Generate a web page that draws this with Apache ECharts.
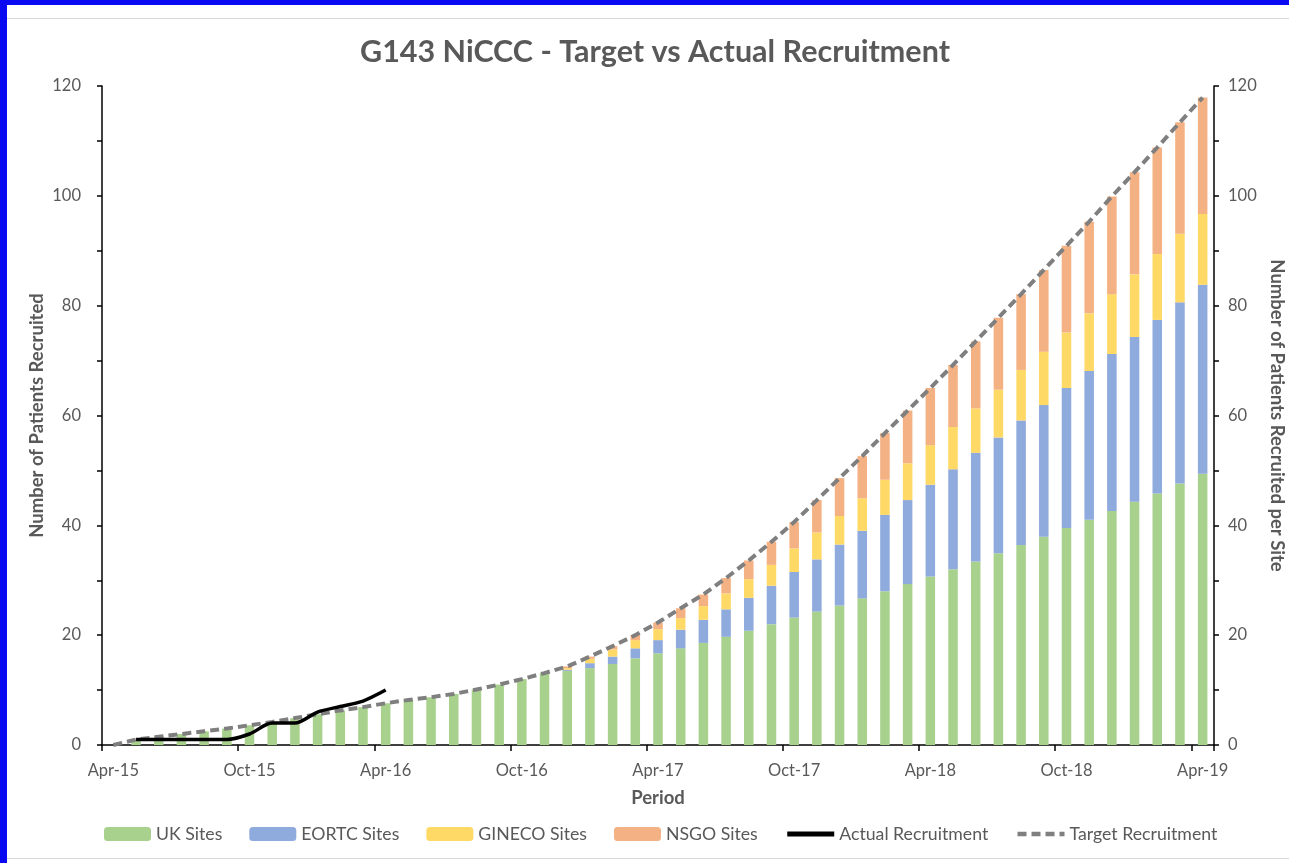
<!DOCTYPE html>
<html>
<head>
<meta charset="utf-8">
<script src="https://cdn.jsdelivr.net/npm/echarts@6/dist/echarts.min.js"></script>
<style>
html,body{margin:0;padding:0;width:1289px;height:863px;overflow:hidden;background:#0a0af2;}
#frame{position:absolute;left:7px;top:5px;width:1282px;height:858px;background:#ffffff;}
#line1{position:absolute;left:7px;top:18px;width:1282px;height:1px;background:#d9d9d9;}
#line2{position:absolute;left:7px;top:858px;width:1282px;height:1px;background:#d9d9d9;}
#chart{position:absolute;left:0;top:0;width:1289px;height:863px;}
</style>
</head>
<body>
<div id="frame"></div>
<div id="line1"></div>
<div id="line2"></div>
<div id="chart"></div>
<script>
const categories = ['Apr-15','May-15','Jun-15','Jul-15','Aug-15','Sep-15','Oct-15','Nov-15','Dec-15','Jan-16','Feb-16','Mar-16',
 'Apr-16','May-16','Jun-16','Jul-16','Aug-16','Sep-16','Oct-16','Nov-16','Dec-16','Jan-17','Feb-17','Mar-17',
 'Apr-17','May-17','Jun-17','Jul-17','Aug-17','Sep-17','Oct-17','Nov-17','Dec-17','Jan-18','Feb-18','Mar-18',
 'Apr-18','May-18','Jun-18','Jul-18','Aug-18','Sep-18','Oct-18','Nov-18','Dec-18','Jan-19','Feb-19','Mar-19','Apr-19'];

const ukSites = [0,1.0,1.5,2.0,2.5,3.0,3.6,4.2,4.9,5.6,6.3,6.9,7.6,8.2,8.7,9.3,10.1,11.0,12.0,13.1,
 13.5,14.0,14.75,15.8,16.7,17.6,18.6,19.7,20.8,22.0,23.2,24.3,25.4,26.7,28.0,29.3,30.7,32.0,33.4,34.9,
 36.4,37.9,39.5,41.0,42.6,44.3,45.8,47.6,49.4];
const eortcSites = [0,0,0,0,0,0,0,0,0,0,0,0,0,0,0,0,0,0,0,0,
 0.2,0.9,1.35,1.8,2.4,3.4,4.2,5.0,6.0,7.0,8.3,9.5,11.1,12.3,13.9,15.3,16.7,18.2,19.8,21.1,
 22.7,24.0,25.5,27.1,28.6,30.0,31.6,33.0,34.4];
const ginecoSites = [0,0,0,0,0,0,0,0,0,0,0,0,0,0,0,0,0,0,0,0,
 0.3,0.8,1.3,1.5,2.0,2.1,2.5,2.9,3.4,3.8,4.3,4.9,5.2,5.9,6.4,6.7,7.2,7.7,8.1,8.7,
 9.2,9.7,10.1,10.5,10.9,11.4,12.0,12.5,12.9];
const nsgoSites = [0,0,0,0,0,0,0,0,0,0,0,0,0,0,0,0,0,0,0,0,
 0.3,0.4,0.6,0.9,1.2,1.8,2.1,2.8,3.4,4.2,4.8,5.9,6.9,7.7,8.5,9.6,10.4,11.3,12.2,13.1,
 13.8,14.9,15.8,16.7,17.8,18.6,19.4,20.3,21.2];
const actualRecruitment = [null,1,1,1,1,1,2,4,4,6,7,8,10];
const targetRecruitment = [0,1.0,1.5,2.0,2.5,3.0,3.6,4.2,4.9,5.6,6.3,6.9,7.6,8.2,8.7,9.3,10.1,11.0,12.0,13.1,
 14.3,16.1,18.0,20.0,22.3,24.9,27.4,30.4,33.6,37.0,40.6,44.6,48.6,52.6,56.8,60.9,65.0,69.2,73.5,77.8,
 82.1,86.5,90.9,95.3,99.9,104.3,108.8,113.4,117.9];

const FONT = 'Lato';
const TXT = '#595959';
const chart = echarts.init(document.getElementById('chart'), null, {renderer:'canvas'});

function barSeries(name, data, color){
  return {name:name, type:'bar', stack:'sites', data:data, barWidth:'42%',
    itemStyle:{color:color}, emphasis:{disabled:true}, z:2};
}
const yAxisBase = {
  type:'value', min:0, max:120, interval:20,
  axisLine:{show:true, lineStyle:{color:'#000000', width:1.5}},
  axisTick:{show:true, length:5, lineStyle:{color:'#000000', width:1.5}},
  minorTick:{show:true, splitNumber:2, length:5, lineStyle:{color:'#000000', width:1.5}},
  splitLine:{show:false},
  axisLabel:{color:TXT, fontFamily:FONT, fontSize:16.5},
  nameLocation:'middle',
  nameTextStyle:{color:TXT, fontFamily:FONT, fontSize:18.5, fontWeight:'bold'}
};

chart.setOption({
  animation:false,
  backgroundColor:'transparent',
  title:{text:'G143 NiCCC - Target vs Actual Recruitment', left:360, top:37, padding:0,
    textStyle:{color:TXT, fontFamily:FONT, fontSize:30.5, fontWeight:'bold'}},
  grid:{left:102, right:75, top:86, bottom:118, containLabel:false, outerBoundsMode:'none'},
  legend:{top:820, left:99, itemWidth:47, itemHeight:14, itemGap:27,
    textStyle:{color:TXT, fontFamily:FONT, fontSize:17.7},
    data:['UK Sites','EORTC Sites','GINECO Sites','NSGO Sites',
      {name:'Actual Recruitment', itemStyle:{opacity:0}, lineStyle:{width:5}},
      {name:'Target Recruitment', itemStyle:{opacity:0}, lineStyle:{width:4.5, type:[9,5]}}]},
  xAxis:{type:'category', data:categories, boundaryGap:true,
    axisLine:{lineStyle:{color:'#000000', width:1.5}},
    axisTick:{show:true, interval:5, length:6, lineStyle:{color:'#000000', width:1.5}},
    axisLabel:{interval:5, color:TXT, fontFamily:FONT, fontSize:16.5, margin:17},
    name:'Period', nameLocation:'middle', nameGap:44,
    nameTextStyle:{color:TXT, fontFamily:FONT, fontSize:18.5, fontWeight:'bold'}},
  yAxis:[
    Object.assign({}, yAxisBase, {position:'left', name:'Number of Patients Recruited', nameGap:55, nameMoveOverlap:false,
      axisLabel:Object.assign({}, yAxisBase.axisLabel, {margin:21})}),
    Object.assign({}, yAxisBase, {position:'right', name:'Number of Patients Recruited per Site', nameGap:51, nameRotate:-90,
      axisLabel:Object.assign({}, yAxisBase.axisLabel, {margin:14})})
  ],
  series:[
    barSeries('UK Sites', ukSites, '#A9D18E'),
    barSeries('EORTC Sites', eortcSites, '#8FAADC'),
    barSeries('GINECO Sites', ginecoSites, '#FFD966'),
    barSeries('NSGO Sites', nsgoSites, '#F4B183'),
    {name:'Target Recruitment', type:'line', data:targetRecruitment, symbol:'none', z:4,
      lineStyle:{color:'#7F7F7F', width:4, type:[9,5]}, itemStyle:{color:'#7F7F7F'}},
    {name:'Actual Recruitment', type:'line', data:actualRecruitment, symbol:'none', smooth:0.3, z:5,
      lineStyle:{color:'#000000', width:3.5}, itemStyle:{color:'#000000'}}
  ]
});
</script>
</body>
</html>
